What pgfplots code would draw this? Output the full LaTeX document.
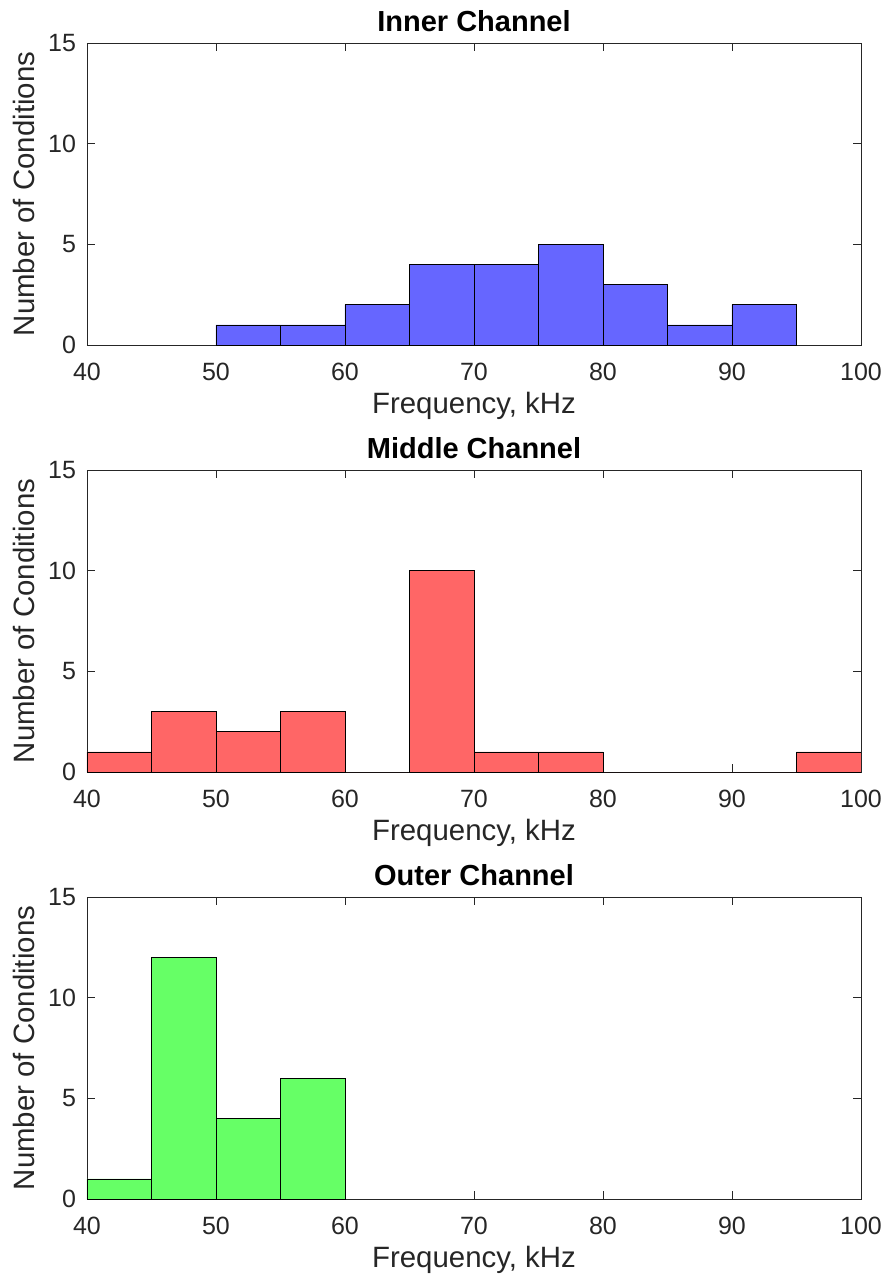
\documentclass[border=0pt]{standalone}
\usepackage{pgfplots}
\pgfplotsset{compat=1.18}
\usepackage{fontspec}
\setmainfont{Liberation Sans}
\definecolor{axgray}{RGB}{38,38,38}
\definecolor{binblue}{RGB}{102,102,255}
\definecolor{binred}{RGB}{255,102,102}
\definecolor{bingreen}{RGB}{102,255,102}
\pgfplotsset{
  mystyle/.style={
    width=387pt, height=151pt, scale only axis,
    xmin=40, xmax=100, ymin=0, ymax=15,
    xtick={40,50,...,100}, ytick={0,5,10,15},
    tick align=inside, tick pos=both,
    major tick length=4pt,
    axis line style={axgray, line width=0.4pt},
    every tick/.style={axgray, line width=0.4pt},
    tick label style={font=\fontsize{12.5}{14}\selectfont, text=axgray},
    xticklabel style={yshift=-5.5pt},
    yticklabel style={xshift=-2pt},
    label style={font=\fontsize{14.7}{16}\selectfont, text=axgray},
    every axis title shift=0pt,
    title style={font=\fontsize{14.5}{16}\selectfont\bfseries, at={(0.5,1)}, anchor=base, yshift=6pt},
    xlabel={Frequency, kHz}, ylabel={Number of Conditions},
    xlabel style={at={(axis description cs:0.5,0)}, anchor=center, yshift=-30.5pt},
    ylabel style={at={(axis description cs:0,0.5)}, anchor=center, yshift=31.5pt},
    /pgf/number format/assume math mode=true,
    anchor=north west,
  }
}
\begin{document}
\begin{tikzpicture}
\begin{axis}[mystyle, at={(0,-21.5pt)}, title={Inner Channel}]
\addplot[ybar interval, fill=binblue, draw=black, line width=0.3pt] coordinates {
(50,1) (55,1) (60,2) (65,4) (70,4) (75,5) (80,3) (85,1) (90,2) (95,2)};
\end{axis}
\begin{axis}[mystyle, at={(0,-235pt)}, title={Middle Channel}]
\addplot[ybar interval, fill=binred, draw=black, line width=0.3pt] coordinates {
(40,1) (45,3) (50,2) (55,3) (60,0) (65,10) (70,1) (75,1) (80,0) (85,0) (90,0) (95,1) (100,1)};
\end{axis}
\begin{axis}[mystyle, at={(0,-448.5pt)}, title={Outer Channel}]
\addplot[ybar interval, fill=bingreen, draw=black, line width=0.3pt] coordinates {
(40,1) (45,12) (50,4) (55,6) (60,6)};
\end{axis}
\pgfresetboundingbox
\path (-43.5pt,0pt) rectangle (400.5pt,-643pt);
\end{tikzpicture}
\end{document}
